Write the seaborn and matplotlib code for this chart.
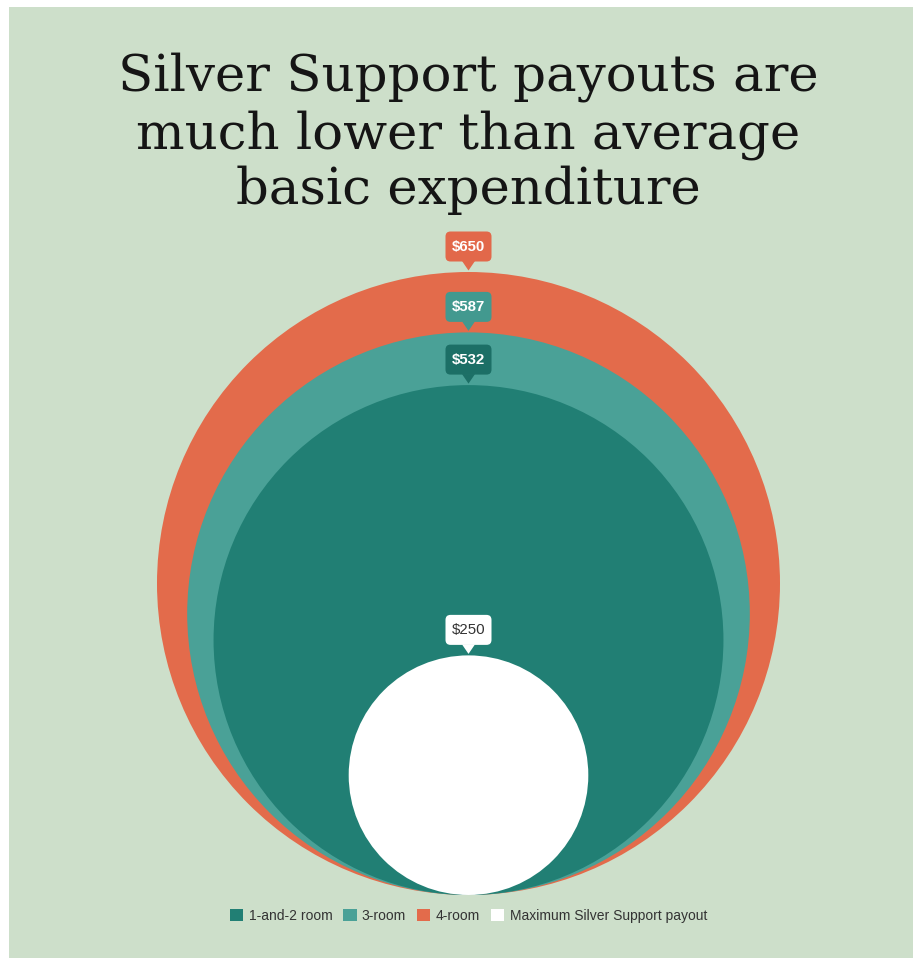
import numpy as np
import pandas as pd
import seaborn as sns
import matplotlib.pyplot as plt
from matplotlib.patches import Circle, Patch, Polygon, FancyBboxPatch, Rectangle

# ---- data ----
categories = ["4-room", "3-room", "1-and-2 room", "Maximum Silver Support payout"]
values = [650, 587, 532, 250]
value_labels = ["$650", "$587", "$532", "$250"]
legend_order = ["1-and-2 room", "3-room", "4-room", "Maximum Silver Support payout"]
title_lines = ["Silver Support payouts are", "much lower than average", "basic expenditure"]

df = pd.DataFrame({"category": categories, "value": values, "label": value_labels})

# ---- styles ----
fill_colors = {"4-room": "#e36b4b", "3-room": "#4aa197",
               "1-and-2 room": "#217f74", "Maximum Silver Support payout": "#ffffff"}
box_colors = {"4-room": "#e2684a", "3-room": "#42998f",
              "1-and-2 room": "#1c6f66", "Maximum Silver Support payout": "#ffffff"}
label_text_colors = {"4-room": "white", "3-room": "white",
                     "1-and-2 room": "white", "Maximum Silver Support payout": "#333333"}
BG = "#cddfca"

sns.set_theme(style="white")
plt.rcParams["font.family"] = ["Liberation Sans", "DejaVu Sans"]

W, H, DPI = 913, 958, 100
fig = plt.figure(figsize=(W / DPI, H / DPI), dpi=DPI, facecolor="white")
fig.patches.append(Rectangle((9 / W, 0), 1, 1 - 7 / H, transform=fig.transFigure,
                             facecolor=BG, edgecolor="none", zorder=-10))

ax = fig.add_axes([0, 0, 1, 1])
ax.set_facecolor("none")
s = 311.5 / 325.0          # pixels per data unit
cx_px, base_px = 468.5, 895.0
ax.set_xlim(-cx_px / s, (W - cx_px) / s)
ax.set_ylim(-(H - base_px) / s, base_px / s)
ax.set_axis_off()

# circles, tangent at the bottom, diameter = value
for _, row in df.sort_values("value", ascending=False).iterrows():
    r = row["value"] / 2.0
    ax.add_patch(Circle((0, r), r, facecolor=fill_colors[row["category"]],
                        edgecolor="none", zorder=2))

# labels with pointer
bw, bh, tri_h, tri_w = 46 / s, 30 / s, 9 / s, 13 / s
for _, row in df.iterrows():
    cat = row["category"]
    tip = row["value"] + 1.5 / s
    base = tip + tri_h
    ax.add_patch(Polygon([(-tri_w / 2, base + 0.5 / s), (tri_w / 2, base + 0.5 / s), (0, tip)],
                         closed=True, facecolor=box_colors[cat], edgecolor="none", zorder=5))
    ax.add_patch(FancyBboxPatch((-bw / 2, base), bw, bh,
                                boxstyle=f"round,pad=0,rounding_size={5 / s}",
                                facecolor=box_colors[cat], edgecolor="none", zorder=5))
    bold = cat != "Maximum Silver Support payout"
    ax.text(0, base + bh / 2, row["label"], ha="center", va="center",
            fontsize=10.8, fontweight="bold" if bold else "normal",
            color=label_text_colors[cat], zorder=6)

# title
for line, py in zip(title_lines, [91, 148, 204]):
    fig.text(468 / W, 1 - py / H, line, ha="center", va="baseline",
             fontsize=37, family=["DejaVu Serif"], color="#151515")

# legend
handles = [Patch(facecolor=fill_colors[c], edgecolor="none", label=c) for c in legend_order]
leg = fig.legend(handles=handles, loc="center", bbox_to_anchor=(468.5 / W, 1 - 916 / H),
                 ncol=4, frameon=False, fontsize=10.0, handlelength=0.95, handleheight=1.0,
                 handletextpad=0.38, columnspacing=0.8, borderaxespad=0)
for t in leg.get_texts():
    t.set_color("#333333")

fig.savefig("out.png", dpi=DPI, facecolor="white")
